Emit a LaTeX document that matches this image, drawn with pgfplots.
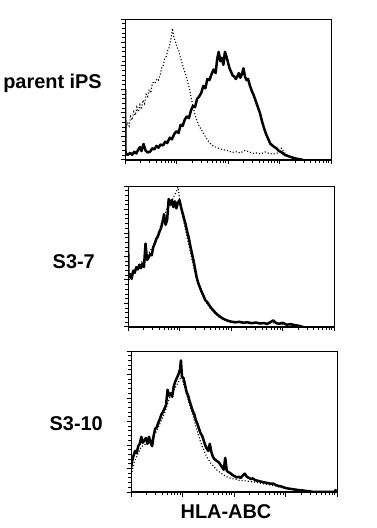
\documentclass[border=0pt]{standalone}
\usepackage{fontspec}
\setmainfont{Liberation Sans}
\usepackage{pgfplots}
\usepackage{pgfplotstable}
\pgfplotsset{compat=1.18}

\pgfplotstableread{
x y
0 3.0
0.01 0.3
0.05 0.22
0.10 0.30
0.14 0.22
0.18 0.35
0.22 0.28
0.26 0.45
0.29 0.55
0.32 0.38
0.36 0.68
0.40 0.40
0.44 0.32
0.49 0.36
0.53 0.50
0.57 0.45
0.61 0.60
0.65 0.52
0.69 0.66
0.74 0.62
0.78 0.78
0.82 0.72
0.87 0.95
0.91 0.88
0.96 1.12
1.00 1.22
1.04 1.15
1.08 1.50
1.12 1.45
1.16 1.72
1.20 1.85
1.24 1.78
1.28 2.10
1.32 2.30
1.36 2.25
1.40 2.60
1.44 2.70
1.48 2.85
1.52 3.15
1.56 3.05
1.60 3.45
1.64 3.40
1.68 3.65
1.72 3.85
1.76 3.70
1.79 4.30
1.82 4.60
1.85 4.20
1.88 4.35
1.91 4.05
1.94 4.60
1.97 4.40
2.00 4.15
2.03 3.90
2.06 3.75
2.09 3.60
2.12 3.55
2.15 3.45
2.18 3.55
2.21 3.70
2.24 3.50
2.27 3.65
2.30 3.90
2.33 3.55
2.36 3.40
2.39 3.45
2.42 3.20
2.46 2.95
2.50 2.75
2.54 2.50
2.58 2.25
2.62 2.00
2.66 1.65
2.70 1.35
2.74 1.10
2.78 0.90
2.82 0.70
2.86 0.62
2.90 0.55
2.94 0.50
2.98 0.40
3.02 0.35
3.06 0.30
3.10 0.22
3.15 0.18
3.20 0.14
3.26 0.10
3.32 0.06
3.40 0.03
3.46 0.0
}\pOneSolid

\pgfplotstableread{
x y
0.02 1.35
0.05 1.6
0.08 1.45
0.11 1.85
0.14 1.70
0.17 2.05
0.20 1.90
0.23 2.25
0.26 2.05
0.29 2.35
0.32 2.15
0.35 2.55
0.38 2.40
0.41 2.80
0.44 2.70
0.47 3.00
0.50 2.85
0.53 3.25
0.56 3.35
0.59 3.30
0.62 3.45
0.65 3.40
0.68 3.60
0.71 3.90
0.74 4.00
0.77 4.30
0.80 4.40
0.83 4.65
0.86 4.80
0.89 5.10
0.92 5.60
0.95 5.20
0.98 5.05
1.01 4.80
1.04 4.70
1.07 4.40
1.10 4.20
1.13 3.95
1.16 3.75
1.19 3.55
1.22 3.30
1.25 3.05
1.28 2.70
1.31 2.40
1.34 2.10
1.37 1.85
1.40 1.65
1.44 1.45
1.48 1.30
1.52 1.15
1.56 1.00
1.60 0.85
1.65 0.72
1.70 0.62
1.76 0.55
1.82 0.50
1.88 0.45
1.94 0.42
2.00 0.40
2.08 0.32
2.16 0.35
2.24 0.30
2.32 0.40
2.40 0.36
2.48 0.28
2.56 0.30
2.64 0.26
2.72 0.34
2.80 0.28
2.88 0.25
2.96 0.30
3.04 0.50
3.10 0.30
3.18 0.15
3.26 0.08
3.34 0.02
}\pOneDot

\pgfplotstableread{
x y
0 4.1
0.01 2.1
0.04 2.25
0.07 2.05
0.10 2.40
0.13 2.30
0.16 2.55
0.19 2.45
0.22 2.65
0.25 2.50
0.28 2.70
0.31 2.55
0.34 3.55
0.37 2.85
0.40 2.95
0.43 3.10
0.46 3.05
0.49 3.40
0.52 3.55
0.55 3.75
0.58 3.85
0.61 4.05
0.64 4.20
0.67 4.45
0.70 4.80
0.73 4.35
0.76 4.55
0.79 5.45
0.82 5.20
0.85 5.40
0.88 5.10
0.91 5.35
0.94 5.05
0.97 5.30
1.00 5.40
1.03 5.10
1.06 4.85
1.09 4.60
1.12 4.35
1.15 4.05
1.18 3.80
1.21 3.45
1.24 3.15
1.27 2.85
1.30 2.50
1.33 2.15
1.36 1.90
1.39 1.72
1.42 1.55
1.46 1.35
1.50 1.15
1.54 1.05
1.58 0.92
1.62 0.80
1.66 0.70
1.70 0.60
1.75 0.50
1.80 0.42
1.85 0.35
1.90 0.30
1.96 0.25
2.02 0.22
2.08 0.20
2.16 0.22
2.24 0.18
2.32 0.20
2.40 0.16
2.48 0.19
2.56 0.15
2.64 0.17
2.70 0.13
2.76 0.20
2.82 0.28
2.88 0.16
2.94 0.14
3.00 0.18
3.08 0.10
3.16 0.12
3.24 0.08
3.32 0.05
3.40 0.0
}\pTwoSolid

\pgfplotstableread{
x y
0.02 2.0
0.06 2.15
0.10 2.30
0.14 2.40
0.18 2.50
0.22 2.60
0.26 2.75
0.30 2.85
0.34 3.00
0.38 3.10
0.42 3.20
0.46 3.35
0.50 3.50
0.54 3.70
0.58 3.95
0.62 4.20
0.66 4.50
0.70 4.70
0.74 4.95
0.78 5.20
0.82 5.35
0.86 5.40
0.90 5.60
0.94 5.75
0.97 5.95
1.00 5.50
1.03 5.00
1.06 4.70
1.09 4.40
1.12 4.10
1.15 3.80
1.18 3.50
1.21 3.20
1.24 2.90
1.27 2.60
1.30 2.30
1.33 2.05
1.36 1.80
1.40 1.60
1.44 1.40
1.48 1.20
1.52 1.05
1.56 0.90
1.60 0.78
1.65 0.66
1.70 0.55
1.75 0.45
1.80 0.38
1.86 0.32
1.92 0.27
2.00 0.25
2.10 0.22
2.20 0.24
2.30 0.18
2.40 0.20
2.50 0.16
2.60 0.17
2.70 0.15
2.80 0.18
2.90 0.14
3.00 0.12
3.10 0.10
3.20 0.08
3.30 0.04
}\pTwoDot

\pgfplotstableread{
x y
0 1.0
0.02 1.30
0.05 1.55
0.08 1.75
0.11 1.65
0.14 1.95
0.17 2.05
0.20 2.35
0.23 2.10
0.26 2.20
0.29 2.30
0.32 2.05
0.35 2.35
0.38 2.10
0.41 1.95
0.44 2.40
0.47 2.70
0.50 2.75
0.53 2.95
0.56 3.10
0.59 3.30
0.62 3.40
0.65 3.55
0.68 3.70
0.71 4.35
0.74 4.10
0.77 4.20
0.80 4.05
0.83 4.50
0.86 4.70
0.89 4.85
0.92 5.00
0.95 5.20
0.97 5.60
0.99 4.90
1.02 4.85
1.05 4.55
1.08 4.25
1.11 4.10
1.14 3.85
1.17 3.65
1.20 3.45
1.23 3.30
1.26 3.05
1.29 2.90
1.32 2.70
1.35 2.50
1.38 2.40
1.41 2.20
1.44 2.00
1.47 1.85
1.50 1.75
1.53 2.05
1.56 1.70
1.59 1.50
1.62 1.40
1.65 1.35
1.68 1.30
1.71 1.25
1.74 1.15
1.77 1.05
1.80 0.95
1.83 1.45
1.86 0.90
1.89 0.85
1.93 0.80
1.97 0.72
2.01 0.68
2.05 0.62
2.09 0.65
2.13 0.60
2.17 0.70
2.21 0.78
2.25 0.65
2.29 0.60
2.33 0.55
2.37 0.58
2.41 0.50
2.46 0.48
2.51 0.45
2.56 0.42
2.61 0.40
2.66 0.38
2.71 0.35
2.76 0.36
2.81 0.30
2.86 0.26
2.91 0.24
2.96 0.20
3.02 0.16
3.08 0.14
3.14 0.12
3.20 0.10
3.26 0.08
3.32 0.07
3.38 0.05
3.46 0.03
3.55 0.0
3.96 0.0
3.98 0.12
}\pThreeSolid

\pgfplotstableread{
x y
0.02 0.85
0.06 1.25
0.10 1.45
0.14 1.65
0.18 1.85
0.22 1.95
0.26 2.00
0.30 2.10
0.34 2.05
0.38 2.15
0.42 2.25
0.46 2.45
0.50 2.60
0.54 2.80
0.58 3.00
0.62 3.20
0.66 3.40
0.70 3.70
0.74 3.95
0.78 4.15
0.82 4.30
0.86 4.45
0.90 4.60
0.94 4.75
0.98 4.95
1.02 4.60
1.06 4.30
1.10 4.00
1.14 3.70
1.18 3.40
1.22 3.10
1.26 2.80
1.30 2.50
1.34 2.20
1.38 1.95
1.42 1.75
1.46 1.55
1.50 1.40
1.54 1.25
1.58 1.15
1.62 1.05
1.66 0.95
1.70 0.88
1.75 0.80
1.80 0.72
1.86 0.65
1.92 0.60
2.00 0.55
2.10 0.50
2.20 0.48
2.30 0.45
2.40 0.42
2.50 0.38
2.60 0.34
2.70 0.30
2.80 0.26
2.90 0.20
3.00 0.16
3.10 0.12
3.20 0.08
3.30 0.05
3.40 0.02
}\pThreeDot

\pgfplotsset{
  panel/.style={
    scale only axis, width=206bp, height=141bp,
    xmin=0, xmax=4, ymin=0, ymax=6,
    xtick={0,1,2,3,4},
    minor xtick={0.301,0.477,0.602,0.699,0.778,0.845,0.903,0.954,
      1.301,1.477,1.602,1.699,1.778,1.845,1.903,1.954,
      2.301,2.477,2.602,2.699,2.778,2.845,2.903,2.954,
      3.301,3.477,3.602,3.699,3.778,3.845,3.903,3.954},
    ytick={0,1,2,3,4,5,6}, minor y tick num=4,
    xticklabels={}, yticklabels={},
    tick align=outside, xtick pos=bottom, ytick pos=left,
    major tick length=4.5bp, minor tick length=3bp,
    every tick/.append style={black, line width=1bp},
    axis line style={line width=0.8bp},
  },
  solid/.style={black, line width=2.5bp, line join=round, no marks},
  dots/.style={black, dotted, line width=1.1bp, no marks},
}

\begin{document}
\begin{tikzpicture}
\useasboundingbox (0,0) rectangle (377bp,528bp);

\begin{axis}[panel, at={(125bp,368bp)}, anchor=south west]
\addplot[dots] table[x=x,y=y] {\pOneDot};
\addplot[solid] table[x=x,y=y] {\pOneSolid};
\draw[line width=2.6bp] (rel axis cs:0,0) -- (rel axis cs:0,1);
\draw[line width=1.5bp] (rel axis cs:0,0) -- (rel axis cs:1,0);
\end{axis}

\begin{axis}[panel, at={(128bp,201bp)}, anchor=south west]
\addplot[dots] table[x=x,y=y] {\pTwoDot};
\addplot[solid] table[x=x,y=y] {\pTwoSolid};
\draw[line width=2.6bp] (rel axis cs:0,0) -- (rel axis cs:0,1);
\draw[line width=1.5bp] (rel axis cs:0,0) -- (rel axis cs:1,0);
\end{axis}

\begin{axis}[panel, at={(131bp,36bp)}, anchor=south west]
\addplot[dots] table[x=x,y=y] {\pThreeDot};
\addplot[solid] table[x=x,y=y] {\pThreeSolid};
\draw[line width=2.6bp] (rel axis cs:0,0) -- (rel axis cs:0,1);
\draw[line width=1.5bp] (rel axis cs:0,0) -- (rel axis cs:1,0);
\end{axis}

\node[anchor=base east, inner sep=0pt, font=\fontsize{20}{22}\selectfont\bfseries] at (102bp,439bp) {parent iPS};
\node[anchor=base east, inner sep=0pt, font=\fontsize{20}{22}\selectfont\bfseries] at (95bp,259bp) {S3-7};
\node[anchor=base east, inner sep=0pt, font=\fontsize{20}{22}\selectfont\bfseries] at (103bp,97bp) {S3-10};
\node[anchor=base, inner sep=0pt, font=\fontsize{20}{22}\selectfont\bfseries] at (226bp,10bp) {HLA-ABC};
\end{tikzpicture}
\end{document}
